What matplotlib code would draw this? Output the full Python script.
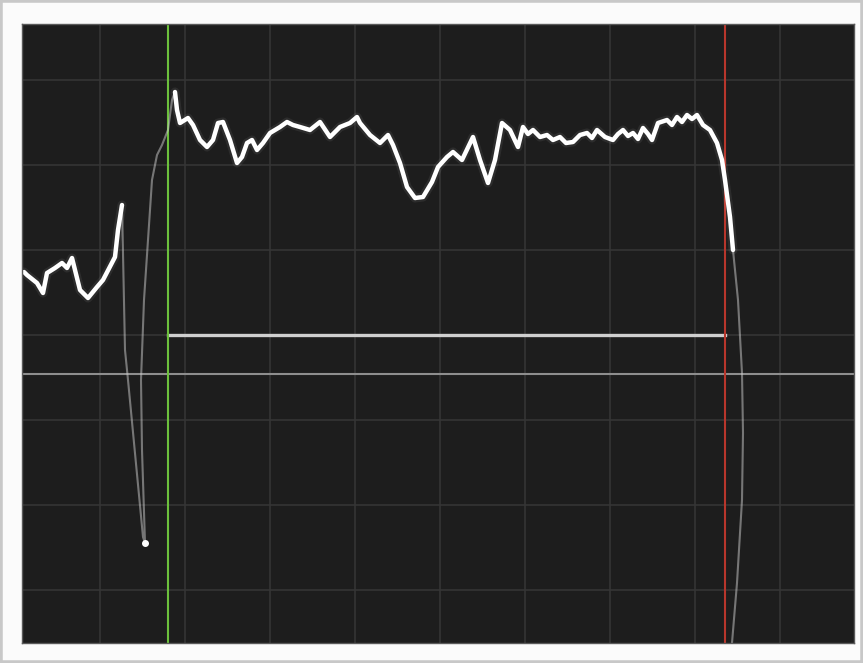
import numpy as np
import matplotlib.pyplot as plt
from matplotlib.patches import Rectangle

# trace (x = sample, y = level, raw screen units)
lead_x = [2, 5, 15, 21, 25, 33, 40, 45, 50, 53, 58, 66, 75, 81, 93, 96, 100]
lead_y = [371, 368, 360, 350, 370, 375, 380, 375, 385, 373, 353, 345, 356, 363, 386, 413, 438]

# fast swing down and back up (faint on the screen)
swing_x = [100, 103, 106, 121, 123, 120, 119, 122, 130, 135, 140, 146, 150, 153]
swing_y = [438, 293, 263, 106, 100, 193, 263, 343, 463, 488, 498, 513, 543, 551]

# plateau between the markers
top_x = [153, 155, 158, 166, 171, 178, 185, 191, 196, 201, 208, 215, 220, 225, 230,
         235, 241, 248, 258, 265, 271, 278, 288, 298, 308, 318, 328, 335, 338, 348,
         358, 366, 371, 378, 385, 393, 401, 410, 416, 425, 431, 440, 451, 458, 466,
         473, 480, 488, 496, 501, 506, 511, 518, 525, 531, 538, 544, 551, 558, 565,
         570, 575, 583, 591, 596, 601, 606, 611, 616, 621, 626, 630, 636, 645, 650,
         655, 660, 665, 670, 675, 681, 688, 695, 700, 703, 708, 711]
top_y = [551, 533, 520, 525, 518, 503, 496, 503, 520, 521, 503, 480, 486, 500, 503,
         493, 500, 510, 516, 521, 518, 516, 513, 521, 506, 516, 520, 526, 520, 508,
         500, 508, 498, 480, 456, 445, 446, 461, 476, 486, 491, 483, 506, 483, 460,
         483, 520, 513, 496, 516, 509, 513, 506, 508, 503, 506, 500, 501, 508, 510,
         505, 513, 506, 503, 509, 513, 507, 510, 504, 515, 509, 503, 520, 523, 518,
         526, 521, 528, 524, 528, 518, 513, 500, 483, 463, 426, 393]

# falling edge leaving the bottom of the screen (faint)
tail_x = [711, 716, 720, 721, 720, 715, 710]
tail_y = [393, 343, 270, 210, 143, 60, 0]

# markers and levels
start_marker = 145.5
stop_marker = 702.5
gate_level = 308
trigger_level = 269

x_max, y_max = 832, 619
grid_x = np.arange(78, x_max, 85)
grid_y = np.arange(53, y_max, 85)

fig = plt.figure(figsize=(8.63, 6.63), dpi=100, facecolor='#fbfbfb')
fig.patches.append(Rectangle((0, 0), 1, 1, transform=fig.transFigure,
                             fill=False, edgecolor='#c8c8c8', linewidth=4))
ax = fig.add_axes([22 / 863, 20 / 663, 832 / 863, 619 / 663])
ax.set_facecolor('#1d1d1d')
ax.set_xlim(0, x_max)
ax.set_ylim(0, y_max)
ax.set_xticks(grid_x)
ax.set_yticks(grid_y)
ax.tick_params(length=0, labelbottom=False, labelleft=False)
ax.grid(True, color='#363636', linewidth=1.1)
for s in ax.spines.values():
    s.set_color('#5a5a5a')
    s.set_linewidth(1)

# reference lines
ax.axhline(trigger_level, color='#8e8e8e', linewidth=1.5)
ax.plot([start_marker, stop_marker], [gate_level, gate_level], color='#cfcfcf', linewidth=2.4)
ax.axvline(start_marker, color='#6cc03c', linewidth=1.5)
ax.axvline(stop_marker, color='#b8362c', linewidth=1.5)

# faint fast edges
ax.plot(swing_x, swing_y, color='#d0d0d0', linewidth=1.5, alpha=0.5)
ax.plot(tail_x, tail_y, color='#d0d0d0', linewidth=1.5, alpha=0.5)

# bright trace with a soft glow
for xs, ys in [(lead_x, lead_y), (top_x, top_y)]:
    ax.plot(xs, ys, color='white', linewidth=6.5, alpha=0.07, solid_capstyle='round')
    ax.plot(xs, ys, color='white', linewidth=3.2, solid_joinstyle='round',
            solid_capstyle='round')

# bright dot at the bottom of the swing
ax.plot([swing_x[4]], [swing_y[4]], 'o', color='white', markersize=4)

fig.savefig('out.png', dpi=100, facecolor=fig.get_facecolor())
